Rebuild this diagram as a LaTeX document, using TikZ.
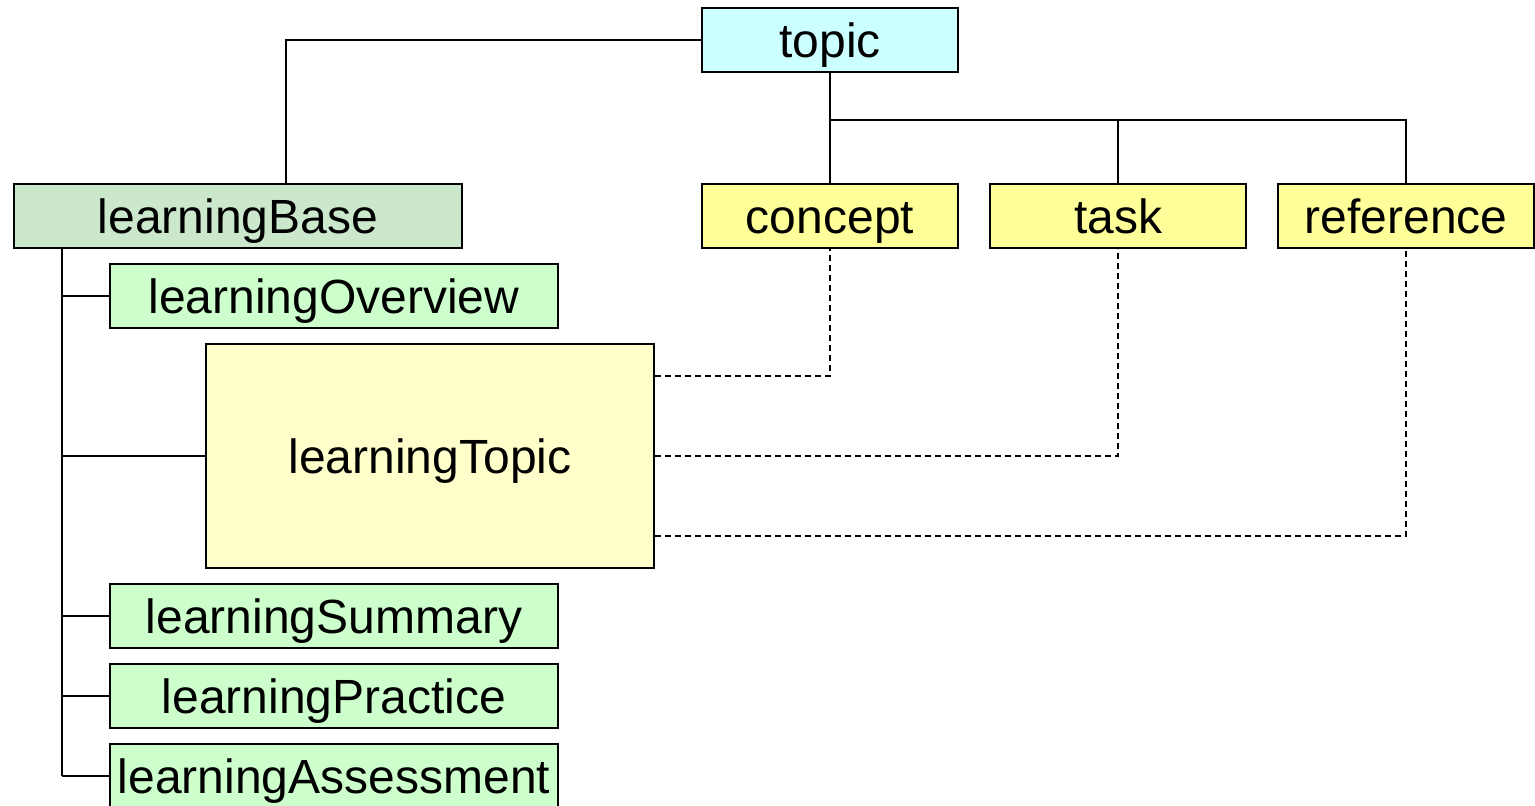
\documentclass[tikz,border=0pt]{standalone}
\usepackage{fontspec}
\setmainfont{Liberation Sans}
\definecolor{topiccyan}{HTML}{CCFFFF}
\definecolor{basegreen}{HTML}{CCE8CC}
\definecolor{partgreen}{HTML}{CCFFCC}
\definecolor{kindyellow}{HTML}{FFFF99}
\definecolor{paleyellow}{HTML}{FFFFCC}
\begin{document}
\begin{tikzpicture}[x=0.5pt, y=-0.5pt, line width=1pt,
    every node/.style = {shape=rectangle, draw, align=center, inner sep=0pt,
      text height=20pt, text depth=3pt, font=\fontsize{24}{28}\selectfont},
    small/.style = {minimum width=128pt, minimum height=32pt},
    wide/.style = {minimum width=224pt, minimum height=32pt, fill=partgreen},
    link/.style = {dashed, dash pattern=on 3pt off 2pt, line width=0.6pt}]
    \useasboundingbox (0,0) rectangle (1535,805);
    \node[small, fill=topiccyan] (topic) at (830,40) {topic};
    \node[wide, fill=basegreen] (base) at (238,216) {learningBase};
    \node[small, fill=kindyellow] (concept) at (830,216) {concept};
    \node[small, fill=kindyellow] (task) at (1118,216) {task};
    \node[small, fill=kindyellow] (reference) at (1406,216) {reference};
    \node[wide] (overview) at (334,296) {learningOverview};
    \node[wide, minimum height=112pt, fill=paleyellow] (ltopic) at (430,456) {learningTopic};
    \node[wide] (summary) at (334,616) {learningSummary};
    \node[wide] (practice) at (334,696) {learningPractice};
    \node[wide] (assess) at (334,776) {learningAssessment};
    % solid tree lines
    \draw (topic.west) -| (286,184);
    \draw (topic.south) -- (830,120) coordinate (bar);
    \draw (bar) -- (concept.north);
    \draw (bar) -| (task.north);
    \draw (bar) -| (reference.north);
    \draw (62,248) -- (62,776);
    \foreach \n in {overview, ltopic, summary, practice, assess}
      \draw (62,0 |- \n.west) -- (\n.west);
    % dashed links
    \draw[link] (ltopic.east |- 0,376) -| (concept.south);
    \draw[link] (ltopic.east) -| (task.south);
    \draw[link] (ltopic.east |- 0,536) -| (reference.south);
\end{tikzpicture}
\end{document}
